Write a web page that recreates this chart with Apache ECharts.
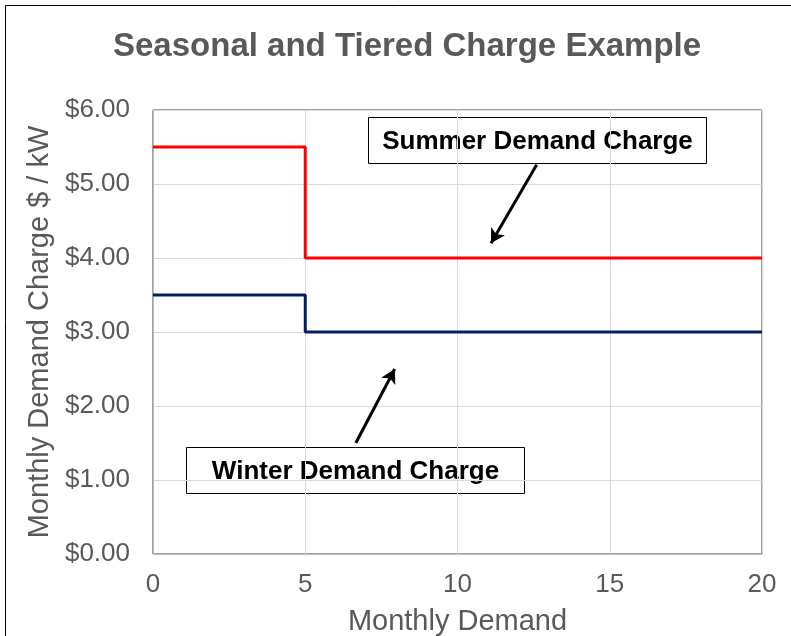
<!DOCTYPE html>
<html>
<head>
<meta charset="utf-8">
<script src="https://cdn.jsdelivr.net/npm/echarts@6/dist/echarts.min.js"></script>
<style>
html, body { margin: 0; padding: 0; background: #fff; }
#main { width: 791px; height: 636px; }
</style>
</head>
<body>
<div id="main"></div>
<script>
var demandSteps = [0, 5, 20];
var summerCharge = [5.5, 4, 4];
var winterCharge = [3.5, 3, 3];
var yTicks = [0, 1, 2, 3, 4, 5, 6];
var summerArrow = [[12.6, 5.26], [11.1, 4.2]];
var winterArrow = [[6.66, 1.5], [7.94, 2.5]];

function pairs(xs, ys) {
	return xs.map(function (x, i) { return [x, ys[i]]; });
}

var sans = "'Liberation Sans', Arial, sans-serif";
var myChart = echarts.init(document.getElementById('main'));

// callout box, placed by its top-left corner
function noteBox(label, x, y) {
	return {
		type: 'group',
		x: x, y: y,
		children: [{
			type: 'rect',
			shape: { x: 0, y: 0, width: 338, height: 46 },
			style: { fill: 'none', stroke: '#000', lineWidth: 1 }
		}, {
			type: 'text',
			x: 169, y: 24,
			style: {
				text: label,
				font: 'bold 26px ' + sans,
				fill: '#000',
				align: 'center',
				verticalAlign: 'middle'
			}
		}]
	};
}

var arrowLine = {
	silent: true,
	symbol: ['none', 'arrow'],
	symbolSize: [12, 14],
	label: { show: false },
	lineStyle: { color: '#000', width: 3, type: 'solid' }
};

var option = {
	animation: false,
	title: {
		text: 'Seasonal and Tiered Charge Example',
		left: 108,
		top: 25,
		textStyle: {
			fontFamily: sans,
			fontSize: 33,
			fontWeight: 'bold',
			color: '#595959'
		}
	},
	grid: {
		left: 153,
		right: 29,
		top: 110,
		bottom: 82,
		outerBoundsMode: 'none',
		containLabel: false,
		show: true,
		borderColor: '#404040',
		borderWidth: 1
	},
	xAxis: {
		type: 'value',
		min: 0,
		max: 20,
		interval: 5,
		name: 'Monthly Demand',
		nameLocation: 'middle',
		nameGap: 53,
		nameTextStyle: { fontFamily: sans, fontSize: 29, color: '#595959' },
		axisLine: { show: true, lineStyle: { color: '#bfbfbf', width: 1 } },
		axisTick: { show: false },
		axisLabel: { margin: 18, fontFamily: sans, fontSize: 26, color: '#595959' },
		splitLine: { show: true, lineStyle: { color: '#d9d9d9', width: 1 } }
	},
	yAxis: {
		type: 'value',
		min: yTicks[0],
		max: yTicks[yTicks.length - 1],
		interval: 1,
		name: 'Monthly Demand Charge $ / kW',
		nameLocation: 'middle',
		nameGap: 93,
		nameTextStyle: { fontFamily: sans, fontSize: 29, color: '#595959' },
		axisLine: { show: true, lineStyle: { color: '#bfbfbf', width: 1 } },
		axisTick: { show: false },
		axisLabel: {
			margin: 23,
			fontFamily: sans,
			fontSize: 26,
			color: '#595959',
			formatter: function (v) { return '$' + v.toFixed(2); }
		},
		splitLine: { show: true, lineStyle: { color: '#d9d9d9', width: 1 } }
	},
	series: [{
		name: 'Summer',
		type: 'line',
		step: 'end',
		data: pairs(demandSteps, summerCharge),
		showSymbol: false,
		lineStyle: { color: '#ff0000', width: 3 },
		markLine: Object.assign({}, arrowLine, {
			data: [[{ coord: summerArrow[0] }, { coord: summerArrow[1] }]]
		})
	}, {
		name: 'Winter',
		type: 'line',
		step: 'end',
		data: pairs(demandSteps, winterCharge),
		showSymbol: false,
		lineStyle: { color: '#002060', width: 3 },
		markLine: Object.assign({}, arrowLine, {
			data: [[{ coord: winterArrow[0] }, { coord: winterArrow[1] }]]
		})
	}],
	graphic: [{
		type: 'rect',
		x: 5.5, y: 5.5,
		shape: { width: 800, height: 700 },
		style: { fill: 'none', stroke: '#000', lineWidth: 1 },
		silent: true
	},
	noteBox('Summer Demand Charge', 368.5, 117.5),
	noteBox('Winter Demand Charge', 186.5, 447.5)
	]
};
myChart.setOption(option);
</script>
</body>
</html>
